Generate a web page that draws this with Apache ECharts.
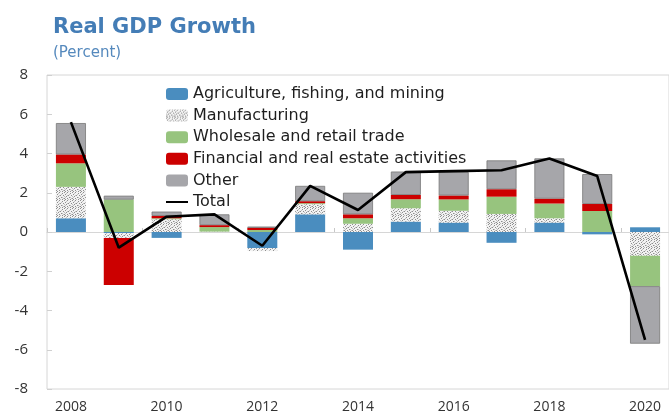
<!DOCTYPE html>
<html>
<head>
<meta charset="utf-8">
<script src="https://cdn.jsdelivr.net/npm/echarts@6/dist/echarts.min.js"></script>
<style>
  html, body { margin: 0; padding: 0; background: #fff; }
  #chart { width: 669px; height: 416px; }
</style>
</head>
<body>
<div id="chart"></div>
<script>
// Contributions to real GDP growth by sector (percentage points)
const years = ['2008','2009','2010','2011','2012','2013','2014','2015','2016','2017','2018','2019','2020'];
const agriculture = [0.70, -0.05, -0.30, 0.00, -0.82, 0.90, -0.90, 0.53, 0.48, -0.55, 0.48, -0.12, 0.24];
const manufacturing = [1.60, -0.25, 0.65, 0.02, -0.15, 0.52, 0.42, 0.68, 0.60, 0.92, 0.22, 0.00, -1.21];
const tradeSector = [1.20, 1.65, 0.05, 0.23, 0.10, 0.05, 0.28, 0.46, 0.58, 0.88, 0.75, 1.07, -1.55];
const finance = [0.45, -2.40, 0.12, 0.10, 0.12, 0.10, 0.20, 0.22, 0.20, 0.38, 0.25, 0.36, 0.00];
const other = [1.60, 0.20, 0.22, 0.55, 0.05, 0.78, 1.10, 1.19, 1.20, 1.47, 2.05, 1.52, -2.93];
const total = [5.60, -0.80, 0.78, 0.90, -0.70, 2.35, 1.12, 3.05, 3.10, 3.15, 3.75, 2.85, -5.50];
const yTicks = { min: -8, max: 8, step: 2 };

// Speckled fill used for the manufacturing segments
function speckle() {
  const c = document.createElement('canvas');
  c.width = 8; c.height = 8;
  const g = c.getContext('2d');
  g.fillStyle = '#f2f2f2';
  g.fillRect(0, 0, 8, 8);
  g.fillStyle = '#8e8e8e';
  const dots = [[0,0],[3,0],[6,1],[1,2],[4,3],[7,3],[2,4],[5,5],[0,6],[3,6],[6,7],[1,7]];
  dots.forEach(p => g.fillRect(p[0], p[1], 1, 1));
  g.fillStyle = '#c0c0c0';
  const light = [[2,1],[5,2],[0,4],[6,5],[3,3],[4,7],[7,6],[1,5]];
  light.forEach(p => g.fillRect(p[0], p[1], 1, 1));
  return c;
}

const FONT = '"DejaVu Sans", "Open Sans", sans-serif';
const AXIS_FONT = '"Open Sans", "Noto Sans", sans-serif';
const chart = echarts.init(document.getElementById('chart'), null, { renderer: 'canvas' });

function barSeries(name, data, color, extra) {
  return Object.assign({
    name: name,
    type: 'bar',
    stack: 'gdp',
    data: data,
    barWidth: 30,
    itemStyle: { color: color },
    emphasis: { disabled: true }
  }, extra || {});
}

chart.setOption({
  animation: false,
  backgroundColor: '#ffffff',
  textStyle: { fontFamily: FONT },
  title: {
    text: 'Real GDP Growth',
    subtext: '(Percent)',
    left: 48,
    top: 12,
    itemGap: 8,
    textStyle: { fontFamily: FONT, fontSize: 21, fontWeight: 'bold', color: '#447db6' },
    subtextStyle: { fontFamily: FONT, fontSize: 15, color: '#5589bd' }
  },
  legend: {
    orient: 'vertical',
    left: 161,
    top: 81,
    itemWidth: 22,
    itemHeight: 12,
    itemGap: 5.6,
    textStyle: { fontFamily: FONT, fontSize: 16, color: '#1e1e1e', lineHeight: 16 },
    data: [
      { name: 'Agriculture, fishing, and mining' },
      { name: 'Manufacturing' },
      { name: 'Wholesale and retail trade' },
      { name: 'Financial and real estate activities' },
      { name: 'Other', itemStyle: { borderWidth: 0 } },
      { name: 'Total', icon: 'path://M0,5 L22,5 L22,7 L0,7 Z' }
    ]
  },
  grid: {
    left: 47,
    top: 75,
    right: -5,
    bottom: 27,
    show: true,
    borderColor: '#d6d6d6',
    borderWidth: 1,
    containLabel: false
  },
  xAxis: [
    {
      type: 'category',
      data: years,
      position: 'bottom',
      boundaryGap: true,
      axisLine: { show: false, onZero: false },
      axisTick: { show: false },
      axisLabel: { interval: 1, margin: 11, fontFamily: AXIS_FONT, fontSize: 14, color: '#333' }
    },
    {
      type: 'category',
      data: years,
      position: 'bottom',
      boundaryGap: true,
      axisLine: { show: true, onZero: true, lineStyle: { color: '#d6d6d6', width: 1 } },
      axisTick: { show: true, inside: true, interval: 1, length: 4, lineStyle: { color: '#c8c8c8' } },
      axisLabel: { show: false }
    }
  ],
  yAxis: {
    type: 'value',
    min: yTicks.min,
    max: yTicks.max,
    interval: yTicks.step,
    axisLine: { show: false },
    axisTick: { show: true, inside: true, length: 5, lineStyle: { color: '#d0d0d0' } },
    splitLine: { show: false },
    axisLabel: { margin: 19, fontFamily: AXIS_FONT, fontSize: 15, color: '#333' }
  },
  series: [
    barSeries('Agriculture, fishing, and mining', agriculture, '#4a8dbf'),
    barSeries('Manufacturing', manufacturing, { image: speckle(), repeat: 'repeat' }),
    barSeries('Wholesale and retail trade', tradeSector, '#97c47e'),
    barSeries('Financial and real estate activities', finance, '#cc0000'),
    barSeries('Other', other, '#a6a6aa', { itemStyle: { color: '#a6a6aa', borderColor: '#777777', borderWidth: 0.8 } }),
    {
      name: 'Total',
      type: 'line',
      data: total,
      symbol: 'none',
      z: 5,
      lineStyle: { color: '#000000', width: 2.6 },
      itemStyle: { color: '#000000' },
      emphasis: { disabled: true }
    }
  ]
});
</script>
</body>
</html>
